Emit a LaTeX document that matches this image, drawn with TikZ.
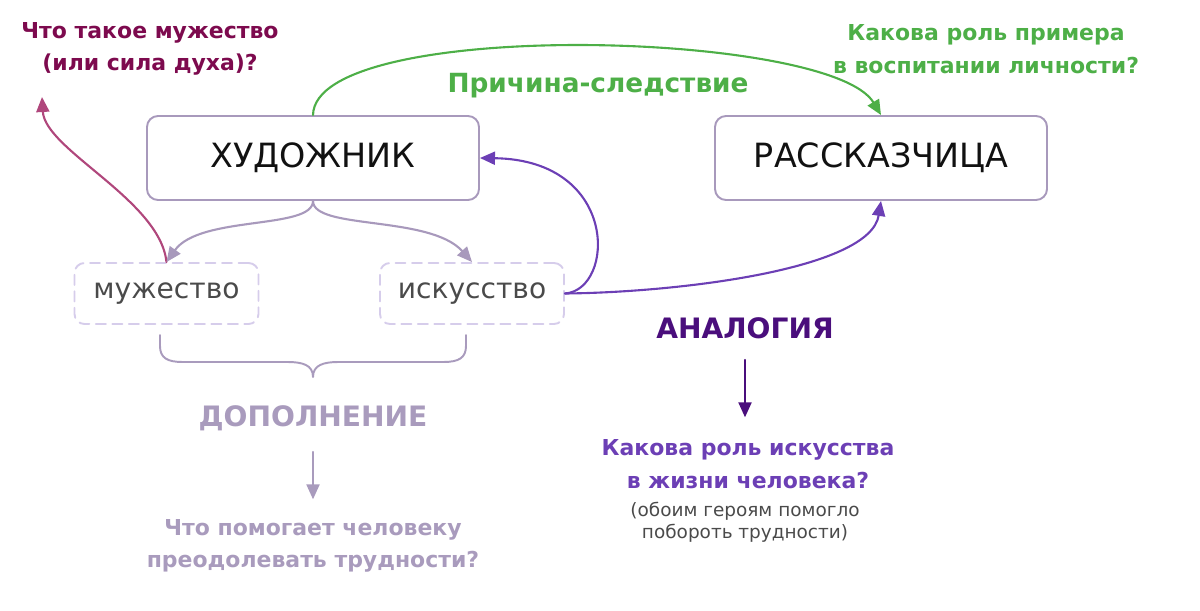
\documentclass[tikz,border=0pt]{standalone}
\usepackage{fontspec}
\setmainfont{DejaVu Sans}
\usetikzlibrary{arrows.meta, positioning}
\definecolor{ink}{HTML}{111111}
\definecolor{wframe}{HTML}{A899BC}
\definecolor{wdash}{HTML}{D6CDEB}
\definecolor{wgrey}{HTML}{4A4A4A}
\definecolor{wgreen}{HTML}{4DAF47}
\definecolor{wplum}{HTML}{7D0A4E}
\definecolor{wrose}{HTML}{B0477C}
\definecolor{wviolet}{HTML}{6C3FB5}
\definecolor{wdeep}{HTML}{4A0E7C}
\definecolor{wlilac}{HTML}{A99BBD}
\tikzset{el/.style={line cap=round, line join=round},
  hero/.style={draw=wframe, line width=1.1pt, rounded corners=0.22cm, minimum width=6.64cm, minimum height=1.68cm, font=\fontsize{19}{22}\selectfont, text=ink},
  trait/.style={draw=wdash, dash pattern=on 0.2cm off 0.13cm, line width=1.1pt, rounded corners=0.2cm, minimum width=3.68cm, minimum height=1.22cm, font=\fontsize{16}{19}\selectfont, text=wgrey},
  quest/.style={font=\bfseries\fontsize{12.5}{18.5}\selectfont, align=center},
  tip/.style={line width=1.2pt, -{Triangle[length=3mm,width=2.6mm]}}}

\begin{document}
\begin{tikzpicture}[el]
  \useasboundingbox (0,0) rectangle (24,-12.22);
  % boxes
  \node[hero] (art) at (6.26,-3.16) {ХУДОЖНИК};
  \node[hero] (narr) at (17.62,-3.16) {РАССКАЗЧИЦА};
  \node[trait] (courage) at (3.33,-5.87) {мужество};
  \node[trait] (skill) at (9.44,-5.87) {искусство};
  % questions and labels
  \node[quest, text=wplum] (qcourage) at (3.0,-0.98) {Что такое мужество\\(или сила духа)?};
  \node[quest, text=wgreen] (qexample) at (19.72,-0.98) {Какова роль примера\\в воспитании личности?};
  \node[quest, text=wgreen, font=\bfseries\fontsize{15}{18}\selectfont] (cause) at (11.96,-1.72) {Причина-следствие};
  \node[quest, text=wlilac, font=\bfseries\fontsize{16}{19}\selectfont] (compl) at (6.26,-8.36) {ДОПОЛНЕНИЕ};
  \node[quest, text=wlilac] (qhelp) at (6.26,-10.92) {Что помогает человеку\\преодолевать трудности?};
  \node[quest, text=wdeep, font=\bfseries\fontsize{16}{19}\selectfont] (analog) at (14.9,-6.56) {АНАЛОГИЯ};
  \node[quest, text=wviolet] (qart) at (14.96,-9.28) {Какова роль искусства\\в жизни человека?};
  \node[align=center, text=wgrey, font=\fontsize{10.5}{12.5}\selectfont] (note) at (14.9,-10.44) {(обоим героям помогло\\побороть трудности)};

  % connectors
  \draw[wgreen, tip] (art.north) .. controls (6.3,-0.35) and (16.6,-0.6) .. (narr.north);
  \draw[wrose, tip] (courage.north) .. controls (3.2,-4.0) and (0.9,-3.0) .. (0.84,-1.94);
  \draw[wframe, tip] (art.south) .. controls (6.26,-4.6) and (4.0,-4.3) .. (courage.north);
  \draw[wframe, tip] (art.south) .. controls (6.26,-4.6) and (8.6,-4.3) .. (skill.north);
  \draw[wviolet, tip] (skill.east) .. controls (12.3,-5.8) and (12.4,-3.2) .. (art.east);
  \draw[wviolet, tip] (skill.east) .. controls (13.5,-5.85) and (17.4,-5.4) .. (narr.south);
  \draw[wlilac, tip] (compl.south) ++(0,-0.3) -- ++(0,-0.95);
  \draw[wdeep, tip] (analog.south) ++(0,-0.3) -- ++(0,-1.15);
  % brace under the two traits
  \draw[wlilac, line width=1.1pt] (3.2,-6.7) -- (3.2,-6.92) .. controls (3.2,-7.16) and (3.35,-7.24) .. (3.65,-7.24) -- (5.75,-7.24) .. controls (6.05,-7.24) and (6.26,-7.3) .. (6.26,-7.54) .. controls (6.26,-7.3) and (6.47,-7.24) .. (6.77,-7.24) -- (8.87,-7.24) .. controls (9.17,-7.24) and (9.32,-7.16) .. (9.32,-6.92) -- (9.32,-6.7);
\end{tikzpicture}
\end{document}
